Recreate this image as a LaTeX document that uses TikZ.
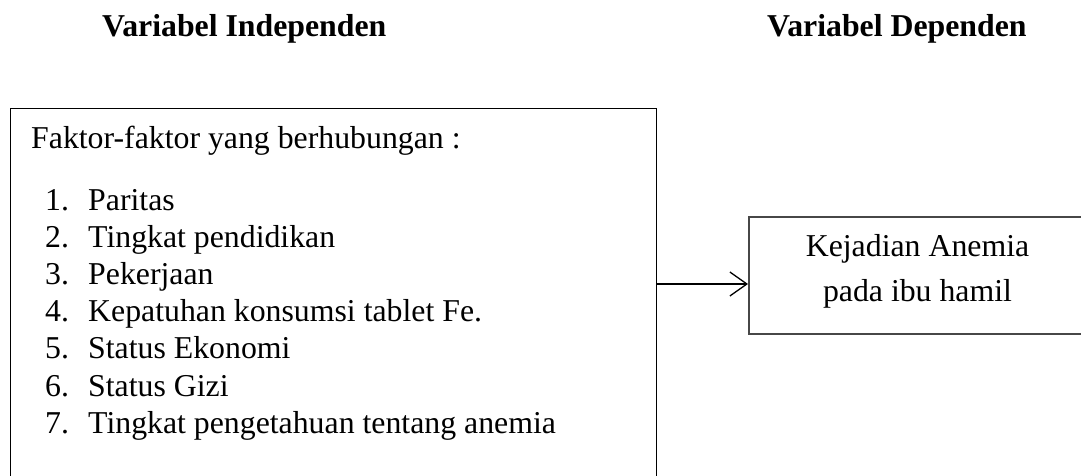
\documentclass[tikz,border=0pt]{standalone}
\usepackage{fontspec}
\setmainfont{Liberation Serif}
\usetikzlibrary{arrows.meta}
\begin{document}
\begin{tikzpicture}[x=1pt,y=-1pt,
  txt/.style={inner sep=0pt,anchor=base west,font=\fontsize{31.8}{37}\selectfont},
  ttl/.style={inner sep=0pt,anchor=base west,font=\fontsize{31.8}{37}\selectfont\bfseries},
  ctr/.style={inner sep=0pt,anchor=base,font=\fontsize{31.8}{37}\selectfont},
  boxA/.style={draw=black,line width=1.3pt,anchor=north west,inner sep=0pt},
  boxB/.style={draw=black!72,line width=1.5pt,anchor=north west,inner sep=0pt}]
\useasboundingbox (0,0) rectangle (1081,476);
\clip (0,0) rectangle (1081,476);
\node[ttl] (t1) at (102,37) {Variabel Independen};
\node[ttl] (t2) at (767,37) {Variabel Dependen};
\node[boxA,minimum width=646pt,minimum height=392pt] (indep) at (10,108) {};
\node[boxB,minimum width=380pt,minimum height=117pt] (dep) at (748,216) {};
\node[txt] (head) at (31,149) {Faktor-faktor yang berhubungan :};
\foreach \i/\t [count=\k from 0] in {1/Paritas,2/Tingkat pendidikan,3/Pekerjaan,4/Kepatuhan konsumsi tablet Fe.,5/Status Ekonomi,6/Status Gizi,7/Tingkat pengetahuan tentang anemia}{
  \node[txt] (n\i) at (45,{210+37.2*\k}) {\i.};
  \node[txt] (i\i) at (88,{210+37.2*\k}) {\t};
}
\node[ctr] (d1) at (917.5,256) {Kejadian Anemia};
\node[ctr] (d2) at (917.5,301) {pada ibu hamil};
\coordinate (ay) at (0,284);
\draw[line width=1.3pt,-{Straight Barb[length=17pt,width=24pt,line width=1.3pt]}] (indep.east |- ay) -- (dep.west |- ay);
\end{tikzpicture}
\end{document}
